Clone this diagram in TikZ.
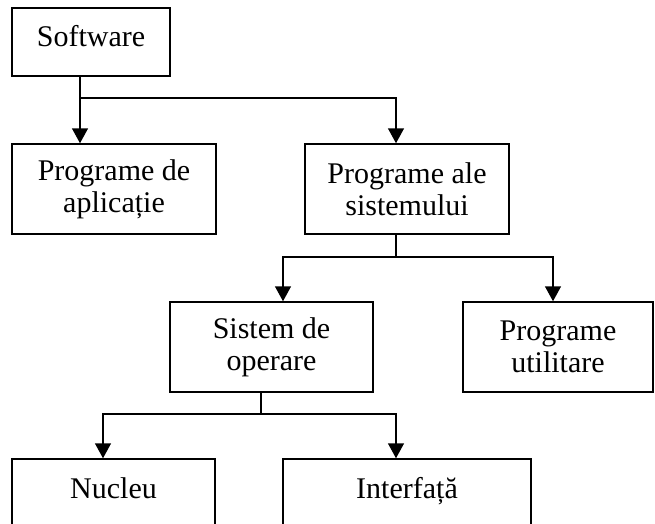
\documentclass[tikz,border=0pt]{standalone}
\usepackage{fontspec}
\setmainfont{Liberation Serif}
\usetikzlibrary{arrows.meta}
\begin{document}
\begin{tikzpicture}[x=1pt,y=-1pt,
  box/.style={draw=black, line width=1.5pt, rectangle, align=center, inner sep=0pt, font=\fontsize{30}{32}\selectfont},
  conn/.style={draw=black, line width=1.5pt},
  arr/.style={conn, -{Triangle[length=15pt,width=16pt]}}]
\useasboundingbox (0,0) rectangle (655,524);
\clip (0,0) rectangle (655,524);
\fill[white] (0,0) rectangle (655,524);
\node[box, minimum width=158pt, minimum height=68pt, text height=21pt, text depth=11pt] (sw) at (91,42) {Software};
\node[box, minimum width=204pt, minimum height=90pt] (app) at (114,189) {Programe de\\aplicație};
\node[box, minimum width=204pt, minimum height=90pt] (sys) at (407,189) {Programe ale\\sistemului};
\node[box, minimum width=203pt, minimum height=90pt] (os) at (271.5,347) {Sistem de\\operare};
\node[box, minimum width=190pt, minimum height=90pt] (util) at (558,347) {Programe\\utilitare};
\node[box, minimum width=203pt, minimum height=90pt] (nuc) at (113.5,504) {Nucleu\\\mbox{}};
\node[box, minimum width=248pt, minimum height=90pt] (intf) at (407,504) {Interfață\\\mbox{}};
\coordinate (j1) at (80,98);
\coordinate (c1) at (396,98);
\coordinate (j2) at (396,257);
\coordinate (l2) at (283,257);
\coordinate (r2) at (553,257);
\coordinate (j3) at (261,414);
\coordinate (l3) at (103,414);
\coordinate (r3) at (396,414);
\draw[arr] (sw.south -| j1) -- (app.north -| j1);
\draw[arr] (j1) -- (c1) -- (sys.north -| c1);
\draw[conn] (sys.south -| j2) -- (j2);
\draw[arr] (j2) -- (l2) -- (os.north -| l2);
\draw[arr] (j2) -- (r2) -- (util.north -| r2);
\draw[conn] (os.south -| j3) -- (j3);
\draw[arr] (j3) -- (l3) -- (nuc.north -| l3);
\draw[arr] (j3) -- (r3) -- (intf.north -| r3);
\end{tikzpicture}
\end{document}
